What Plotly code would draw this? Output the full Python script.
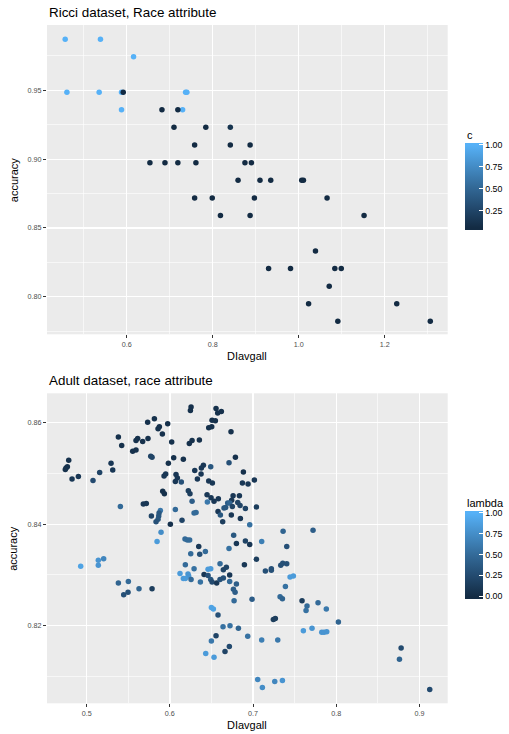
import plotly.graph_objects as go

W, H = 509, 734

# ---------------- Ricci data ----------------
ricci_dlavgall = [0.457, 0.539, 0.616, 0.461, 0.536, 0.588, 0.737, 0.740, 0.588, 0.730,
                  0.592, 0.682, 0.719, 0.710, 0.784, 0.841, 0.758, 0.841, 0.887,
                  0.654, 0.689, 0.719, 0.761, 0.875, 0.890,
                  0.859, 0.910, 0.935, 1.007, 1.011,
                  0.758, 0.799, 0.897, 1.066,
                  0.818, 0.887, 1.152,
                  1.039, 0.930, 0.981, 1.084, 1.099,
                  1.071, 1.023, 1.228, 1.091, 1.306]
ricci_accuracy = [0.9872, 0.9872, 0.9744, 0.9487, 0.9487, 0.9487, 0.9487, 0.9487, 0.9359, 0.9359,
                  0.9487, 0.9359, 0.9359, 0.9231, 0.9231, 0.9231, 0.9103, 0.9103, 0.9103,
                  0.8974, 0.8974, 0.8974, 0.8974, 0.8974, 0.8974,
                  0.8846, 0.8846, 0.8846, 0.8846, 0.8846,
                  0.8718, 0.8718, 0.8718, 0.8718,
                  0.8590, 0.8590, 0.8590,
                  0.8333, 0.8205, 0.8205, 0.8205, 0.8205,
                  0.8077, 0.7949, 0.7949, 0.7821, 0.7821]
ricci_c = [1, 1, 1, 1, 1, 1, 1, 1, 1, 1,
           0.055, 0.055, 0.055, 0.055, 0.055, 0.12, 0.055, 0.055, 0.055,
           0.055, 0.055, 0.055, 0.055, 0.055, 0.055,
           0.055, 0.055, 0.055, 0.055, 0.055,
           0.055, 0.055, 0.055, 0.055,
           0.055, 0.055, 0.055,
           0.055, 0.055, 0.055, 0.055, 0.055,
           0.055, 0.055, 0.055, 0.055, 0.055]

# ---------------- Adult data ----------------
adult_dlavgall = [
    0.5733, 0.5814, 0.5858, 0.5874, 0.5974, 0.5910, 0.5381, 0.5421, 0.5593, 0.5613,
    0.5673, 0.5737, 0.6022, 0.5553, 0.5593, 0.5770, 0.5786, 0.6046, 0.6162, 0.4784,
    0.4768, 0.4752, 0.4743, 0.4824, 0.4900, 0.5076, 0.5156, 0.5293, 0.5313, 0.5982,
    0.5950, 0.5930, 0.6074, 0.6090, 0.6066, 0.6138, 0.5914, 0.5934, 0.5405, 0.5681,
    0.5717, 0.5886, 0.5870, 0.5866, 0.5858, 0.5778, 0.5834, 0.6006, 0.6066, 0.6146,
    0.5894, 0.5846,
    0.6255, 0.6247, 0.6555, 0.6575, 0.6619, 0.6507, 0.6547, 0.6467, 0.6503, 0.6735,
    0.6267, 0.6234, 0.6355, 0.6788, 0.6711, 0.6403, 0.6379, 0.6491, 0.6299, 0.6375,
    0.6331, 0.6884, 0.6467, 0.6511, 0.6872, 0.6940, 0.7016, 0.6222, 0.6242, 0.6447,
    0.6495, 0.6760, 0.6836, 0.6583, 0.6531, 0.6743, 0.6451, 0.6267, 0.6695, 0.6719,
    0.6816, 0.6844, 0.6651, 0.6671, 0.6751, 0.6579, 0.6607, 0.6739, 0.6635, 0.6848,
    0.6960, 0.7040, 0.6908, 0.6291, 0.6315, 0.7361, 0.6767, 0.6182, 0.6210, 0.6238,
    0.6347, 0.6800, 0.6908, 0.6960, 0.7104, 0.7405, 0.6711, 0.6427, 0.7721,
    0.4928, 0.5140, 0.5140, 0.5204, 0.5381, 0.5501, 0.5445, 0.5497, 0.5629, 0.5786,
    0.6251, 0.6359, 0.7040, 0.6186, 0.6291, 0.6122, 0.6218, 0.6226, 0.6162, 0.6186,
    0.6255, 0.6367, 0.6459, 0.6491, 0.6411, 0.6459, 0.6491, 0.6507, 0.6563, 0.6603,
    0.6643, 0.6603, 0.6643, 0.6679, 0.6719, 0.6719, 0.6800, 0.6764, 0.6784, 0.6772,
    0.6896, 0.6988, 0.7148, 0.7220, 0.7220, 0.7333, 0.7357, 0.7405, 0.7389, 0.7445,
    0.7485, 0.7325, 0.7353, 0.7589, 0.7649, 0.7637, 0.6499, 0.6523, 0.6579, 0.6639,
    0.6723, 0.6824, 0.6555, 0.6499, 0.6936, 0.7104, 0.7297, 0.6715, 0.6663, 0.6431,
    0.6531, 0.7244, 0.7268, 0.7605, 0.7056, 0.7112, 0.7261, 0.7353,
    0.7781, 0.7881, 0.8026, 0.7709, 0.7826, 0.7854, 0.7886, 0.8780, 0.8760, 0.9124]
adult_accuracy = [
    0.8601, 0.8608, 0.8588, 0.8592, 0.8598, 0.8578, 0.8572, 0.8555, 0.8565, 0.8569,
    0.8563, 0.8569, 0.8562, 0.8544, 0.8546, 0.8534, 0.8532, 0.8531, 0.8528, 0.8526,
    0.8513, 0.8511, 0.8508, 0.8489, 0.8494, 0.8486, 0.8502, 0.8520, 0.8507, 0.8520,
    0.8499, 0.8495, 0.8498, 0.8491, 0.8484, 0.8483, 0.8465, 0.8460, 0.8435, 0.8440,
    0.8441, 0.8427, 0.8422, 0.8416, 0.8410, 0.8416, 0.8405, 0.8400, 0.8429, 0.8408,
    0.8384, 0.8366,
    0.8631, 0.8624, 0.8628, 0.8619, 0.8622, 0.8605, 0.8604, 0.8590, 0.8592, 0.8582,
    0.8565, 0.8559, 0.8566, 0.8532, 0.8521, 0.8516, 0.8511, 0.8513, 0.8506, 0.8499,
    0.8489, 0.8503, 0.8485, 0.8481, 0.8481, 0.8479, 0.8487, 0.8466, 0.8460, 0.8458,
    0.8452, 0.8456, 0.8456, 0.8450, 0.8445, 0.8447, 0.8444, 0.8445, 0.8442, 0.8442,
    0.8443, 0.8437, 0.8432, 0.8433, 0.8435, 0.8425, 0.8418, 0.8418, 0.8405, 0.8411,
    0.8399, 0.8434, 0.8431, 0.8422, 0.8423, 0.8386, 0.8378, 0.8371, 0.8369, 0.8369,
    0.8356, 0.8362, 0.8367, 0.8360, 0.8366, 0.8356, 0.8352, 0.8346, 0.8388,
    0.8317, 0.8329, 0.8319, 0.8332, 0.8284, 0.8287, 0.8261, 0.8266, 0.8273, 0.8273,
    0.8342, 0.8341, 0.8331, 0.8320, 0.8312, 0.8303, 0.8302, 0.8298, 0.8293, 0.8293,
    0.8291, 0.8286, 0.8311, 0.8312, 0.8301, 0.8299, 0.8291, 0.8286, 0.8284, 0.8291,
    0.8294, 0.8322, 0.8310, 0.8315, 0.8300, 0.8287, 0.8282, 0.8272, 0.8266, 0.8249,
    0.8320, 0.8252, 0.8308, 0.8312, 0.8309, 0.8319, 0.8323, 0.8322, 0.8277, 0.8296,
    0.8298, 0.8257, 0.8253, 0.8249, 0.8239, 0.8230, 0.8236, 0.8233, 0.8221, 0.8198,
    0.8200, 0.8195, 0.8180, 0.8170, 0.8179, 0.8172, 0.8172, 0.8159, 0.8149, 0.8145,
    0.8138, 0.8212, 0.8214, 0.8190, 0.8094, 0.8078, 0.8090, 0.8092,
    0.8245, 0.8233, 0.8207, 0.8195, 0.8187, 0.8187, 0.8188, 0.8156, 0.8134, 0.8074]
adult_lambda = [
    0.05, 0.05, 0.05, 0.05, 0.05, 0.05, 0.05, 0.05, 0.05, 0.05,
    0.05, 0.05, 0.05, 0.05, 0.05, 0.2, 0.2, 0.05, 0.05, 0.05,
    0.05, 0.05, 0.05, 0.1, 0.1, 0.25, 0.2, 0.1, 0.1, 0.05,
    0.1, 0.1, 0.1, 0.1, 0.1, 0.3, 0.05, 0.05, 0.5, 0.1,
    0.1, 0.6, 0.35, 0.35, 0.35, 0.2, 0.3, 0.05, 0.5, 0.2,
    0.75, 0.85,
    0.05, 0.05, 0.05, 0.05, 0.05, 0.05, 0.05, 0.05, 0.05, 0.05,
    0.05, 0.05, 0.05, 0.05, 0.3, 0.1, 0.1, 0.35, 0.1, 0.1,
    0.1, 0.05, 0.1, 0.1, 0.1, 0.1, 0.1, 0.15, 0.15, 0.1,
    0.1, 0.1, 0.1, 0.1, 0.1, 0.1, 0.6, 0.4, 0.4, 0.45,
    0.2, 0.2, 0.35, 0.35, 0.2, 0.1, 0.35, 0.1, 0.15, 0.1,
    0.55, 0.15, 0.2, 0.5, 0.5, 0.45, 0.35, 0.5, 0.5, 0.5,
    0.1, 0.1, 0.2, 0.1, 0.65, 0.3, 0.55, 0.5, 0.4,
    0.9, 0.8, 0.8, 0.7, 0.45, 0.5, 0.3, 0.3, 0.45, 0.15,
    0.5, 0.3, 0.15, 0.5, 0.55, 0.85, 0.8, 0.8, 0.85, 0.85,
    0.5, 0.55, 0.85, 0.85, 0.1, 0.3, 0.35, 0.25, 0.1, 0.3,
    0.3, 0.5, 0.2, 0.2, 0.1, 0.5, 0.4, 0.4, 0.4, 0.5,
    0.1, 0.4, 0.3, 0.3, 0.3, 0.3, 0.3, 0.3, 0.55, 0.85,
    0.85, 0.5, 0.45, 0.15, 0.5, 0.55, 0.9, 0.9, 0.3, 0.55,
    0.55, 0.45, 0.2, 0.6, 0.55, 0.65, 0.6, 0.25, 0.2, 0.85,
    0.85, 0.15, 0.15, 0.85, 0.7, 0.75, 0.7, 0.8,
    0.5, 0.6, 0.45, 0.8, 0.8, 0.8, 0.8, 0.25, 0.45, 0.25]

# ggplot default continuous scale (Lab interpolation approximated)
base_stops = [(0.0, "#132B43"), (0.25, "#234A6F"), (0.5, "#336A98"), (0.75, "#448DC7"), (1.0, "#56B1F7")]
ext = 0.025
cscale = [[0.0, "#132B43"]] + [[ext + (1 - 2 * ext) * s, c] for s, c in base_stops] + [[1.0, "#56B1F7"]]


def px_x(p):
    return p / W


def px_y(p):
    return 1 - p / H


FONT = "Liberation Sans, Arial, Helvetica, sans-serif"

fig = go.Figure()

fig.add_trace(go.Scatter(
    x=ricci_dlavgall, y=ricci_accuracy, mode="markers",
    marker=dict(size=5.5, color=ricci_c, coloraxis="coloraxis", line=dict(width=0)),
    xaxis="x", yaxis="y", showlegend=False, hoverinfo="skip"))

fig.add_trace(go.Scatter(
    x=adult_dlavgall, y=adult_accuracy, mode="markers",
    marker=dict(size=5.5, color=adult_lambda, coloraxis="coloraxis2", line=dict(width=0)),
    xaxis="x2", yaxis="y2", showlegend=False, hoverinfo="skip"))

xdom = [px_x(47), px_x(447.7)]
top_ydom = [px_y(334.3), px_y(25)]
bot_ydom = [px_y(703.3), px_y(393.3)]

axis_common = dict(
    showgrid=True, gridcolor="white", gridwidth=1.3, zeroline=False, showline=False,
    ticks="outside", ticklen=3, tickwidth=1, tickcolor="#333333",
    tickfont=dict(family=FONT, size=7.2, color="#4D4D4D"), tickmode="linear",
)


def minor(t0, dt):
    return dict(tick0=t0, dtick=dt, showgrid=True, gridcolor="white", gridwidth=0.6, ticks="")


def cbar(yc, length, vals, fmt):
    return dict(
        x=px_x(465), xanchor="left", xpad=0, y=px_y(yc), yanchor="middle", ypad=0,
        len=length, lenmode="pixels", thickness=17.5, thicknessmode="pixels",
        outlinewidth=0, ticks="inside", ticklen=3.5, tickcolor="white", tickwidth=1,
        tickmode="array", tickvals=vals, ticktext=[fmt % v for v in vals],
        tickfont=dict(family=FONT, size=8.8, color="#000000"),
    )


fig.update_layout(
    width=W, height=H,
    margin=dict(l=0, r=0, t=0, b=0),
    paper_bgcolor="white", plot_bgcolor="#EBEBEB",
    font=dict(family=FONT),
    xaxis=dict(domain=xdom, anchor="y", range=[0.4147, 1.3465], tick0=0.6, dtick=0.2,
               tickformat=".1f", minor=minor(0.5, 0.2), **axis_common),
    yaxis=dict(domain=top_ydom, anchor="x", range=[0.7727, 0.9975], tick0=0.80, dtick=0.05,
               tickformat=".2f", minor=minor(0.775, 0.05), **axis_common),
    xaxis2=dict(domain=xdom, anchor="y2", range=[0.4523, 0.934], tick0=0.5, dtick=0.1,
                tickformat=".1f", minor=minor(0.45, 0.1), **axis_common),
    yaxis2=dict(domain=bot_ydom, anchor="x2", range=[0.8047, 0.8658], tick0=0.82, dtick=0.02,
                tickformat=".2f", minor=minor(0.81, 0.02), **axis_common),
    coloraxis=dict(cmin=0.0301, cmax=1.0249, colorscale=cscale,
                   colorbar=cbar(186.3, 87.3, [0.25, 0.5, 0.75, 1.0], "%.2f")),
    coloraxis2=dict(cmin=-0.0263, cmax=1.0263, colorscale=cscale,
                    colorbar=cbar(554.5, 87.6, [0.0, 0.25, 0.5, 0.75, 1.0], "%.2f")),
)

annotations = [
    dict(text="Ricci dataset, Race attribute", x=px_x(46.5), y=px_y(12.8), xanchor="left",
         yanchor="middle", font=dict(size=13.4, color="#000000")),
    dict(text="Adult dataset, race attribute", x=px_x(46.5), y=px_y(381), xanchor="left",
         yanchor="middle", font=dict(size=13.4, color="#000000")),
    dict(text="DIavgall", x=px_x(247.4), y=px_y(356), xanchor="center", yanchor="middle",
         font=dict(size=11, color="#000000")),
    dict(text="DIavgall", x=px_x(247.4), y=px_y(724.5), xanchor="center", yanchor="middle",
         font=dict(size=11, color="#000000")),
    dict(text="accuracy", x=px_x(13.5), y=px_y(179.7), xanchor="center", yanchor="middle",
         textangle=-90, font=dict(size=11, color="#000000")),
    dict(text="accuracy", x=px_x(13.5), y=px_y(548.3), xanchor="center", yanchor="middle",
         textangle=-90, font=dict(size=11, color="#000000")),
    dict(text="c", x=px_x(465), y=px_y(134.6), xanchor="left", yanchor="middle",
         font=dict(size=11, color="#000000")),
    dict(text="lambda", x=px_x(465), y=px_y(502.8), xanchor="left", yanchor="middle",
         font=dict(size=11, color="#000000")),
]
for a in annotations:
    a.update(xref="paper", yref="paper", showarrow=False)
    a["font"]["family"] = FONT
fig.update_layout(annotations=annotations)

fig.write_html(
    "out.html",
    config={"displayModeBar": False, "staticPlot": True},
    post_script="document.body.style.margin='0';document.body.style.padding='0';"
                "document.body.style.overflow='hidden';",
)
